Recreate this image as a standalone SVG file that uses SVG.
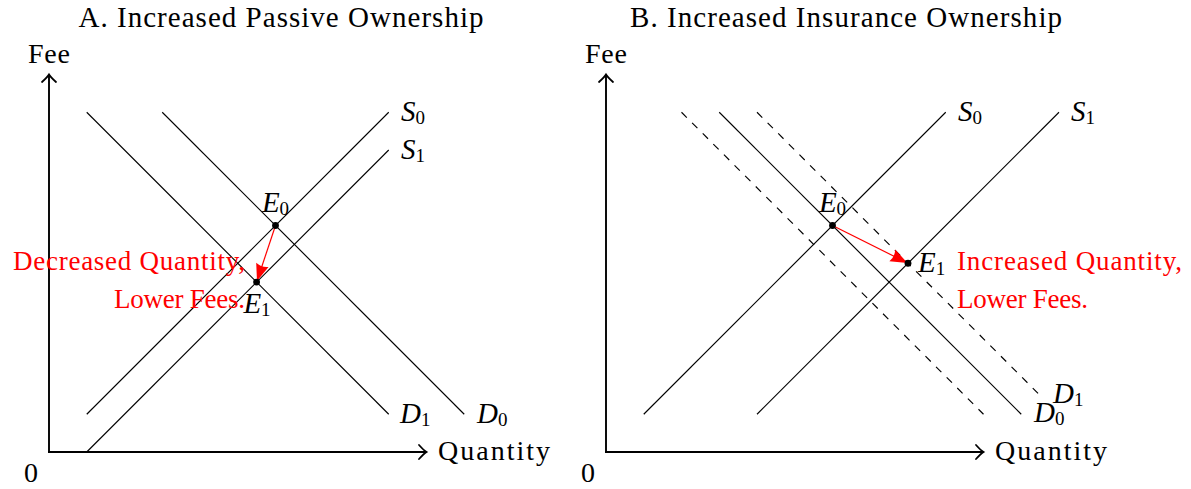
<svg xmlns="http://www.w3.org/2000/svg" width="1191" height="489" viewBox="0 0 1191 489">
<style>
text{font-family:"Liberation Serif","DejaVu Serif",serif;font-size:28px;fill:#000}
.t{font-size:29px}
.m{font-style:italic;font-size:29px}
.sub{font-style:normal;font-size:19px}
.red{fill:#f00;font-size:27px}
.ln{stroke:#000;stroke-width:1.15;fill:none}
.dash{stroke-dasharray:7.5 7.5}
.ax{stroke:#000;stroke-width:1.9;fill:none;marker-end:url(#ax)}
.arr{stroke:#f00;stroke-width:1.2;fill:none;marker-end:url(#rh)}
.dot{fill:#000}
</style>
<defs>
<marker id="ax" markerUnits="userSpaceOnUse" viewBox="-10 -10 20 20" markerWidth="20" markerHeight="20" refX="0" refY="0" orient="auto">
<path d="M-7.5,-7 Q-2.5,-1.5 0,0 Q-2.5,1.5 -7.5,7" stroke="#000" stroke-width="1.8" fill="none" stroke-linecap="round"/>
</marker>
<marker id="rh" markerUnits="userSpaceOnUse" viewBox="-18 -9 20 18" markerWidth="20" markerHeight="18" refX="0" refY="0" orient="auto">
<path d="M0,0 L-17,-6.5 Q-14,0 -17,6.5 Z" fill="#f00"/>
</marker>
</defs>

<g id="panelA">
<text id="titleA" class="t" x="281" y="27" text-anchor="middle" textLength="405">A. Increased Passive Ownership</text>
<g id="axesA">
<path class="ax" d="M49,452 V74.5"/>
<path class="ax" d="M48,452 H426.5"/>
<text x="49" y="63" text-anchor="middle" textLength="42">Fee</text>
<text x="31" y="482" text-anchor="middle">0</text>
<text x="438" y="460" textLength="112">Quantity</text>
</g>
<g id="curvesA">
<g id="A-S0"><path class="ln" d="M86.75,414.25 L388.75,112.25"/><text class="m" x="401" y="121">S<tspan class="sub" dy="3">0</tspan></text></g>
<g id="A-S1"><path class="ln" d="M86.75,452 L388.75,150"/><text class="m" x="401" y="159">S<tspan class="sub" dy="3">1</tspan></text></g>
<g id="A-D0"><path class="ln" d="M162.25,112.25 L464.25,414.25"/><text class="m" x="477" y="423">D<tspan class="sub" dy="3">0</tspan></text></g>
<g id="A-D1"><path class="ln" d="M86.75,112.25 L388.75,414.25"/><text class="m" x="400" y="423">D<tspan class="sub" dy="3">1</tspan></text></g>
</g>
<g id="connectorsA">
<path class="arr" d="M275.5,225.5 L257,281"/>
</g>
<g id="A-E0"><circle class="dot" cx="275.5" cy="225.5" r="3.4"/><text class="m" x="275.5" y="212" text-anchor="middle">E<tspan class="sub" dy="3">0</tspan></text></g>
<g id="A-E1"><circle class="dot" cx="256.6" cy="282.1" r="3.4"/><text class="m" x="257" y="313" text-anchor="middle">E<tspan class="sub" dy="3">1</tspan></text></g>
<g id="A-note">
<text class="red" x="245" y="270" text-anchor="end" textLength="232">Decreased Quantity,</text>
<text class="red" x="245" y="308" text-anchor="end" textLength="131">Lower Fees.</text>
</g>
</g>

<g id="panelB">
<text id="titleB" class="t" x="846" y="27" text-anchor="middle" textLength="432">B. Increased Insurance Ownership</text>
<g id="axesB">
<path class="ax" d="M606,452 V74.5"/>
<path class="ax" d="M605,452 H983.5"/>
<text x="606" y="63" text-anchor="middle" textLength="42">Fee</text>
<text x="588" y="482" text-anchor="middle">0</text>
<text x="995" y="460" textLength="112">Quantity</text>
</g>
<g id="curvesB">
<g id="B-S0"><path class="ln" d="M643.75,414.25 L945.75,112.25"/><text class="m" x="958" y="121">S<tspan class="sub" dy="3">0</tspan></text></g>
<g id="B-S1"><path class="ln" d="M757,414.25 L1059,112.25"/><text class="m" x="1071" y="121">S<tspan class="sub" dy="3">1</tspan></text></g>
<g id="B-D0"><path class="ln" d="M719.25,112.25 L1021.25,414.25"/><text class="m" x="1034" y="422">D<tspan class="sub" dy="3">0</tspan></text></g>
<g id="B-Dshift"><path class="ln dash" d="M681.5,112.25 L983.5,414.25"/></g>
<g id="B-D1"><path class="ln dash" d="M757,112.25 L1040.1,395.4"/><text class="m" x="1053" y="403">D<tspan class="sub" dy="3">1</tspan></text></g>
</g>
<g id="connectorsB">
<path class="arr" d="M832.5,225.5 L907.5,263"/>
</g>
<g id="B-E0"><circle class="dot" cx="832.5" cy="225.5" r="3.4"/><text class="m" x="832.5" y="212" text-anchor="middle">E<tspan class="sub" dy="3">0</tspan></text></g>
<g id="B-E1"><circle class="dot" cx="908" cy="263.25" r="3.4"/><text class="m" x="918" y="272">E<tspan class="sub" dy="3">1</tspan></text></g>
<g id="B-note">
<text class="red" x="957" y="270" textLength="225">Increased Quantity,</text>
<text class="red" x="957" y="308" textLength="131">Lower Fees.</text>
</g>
</g>
</svg>
